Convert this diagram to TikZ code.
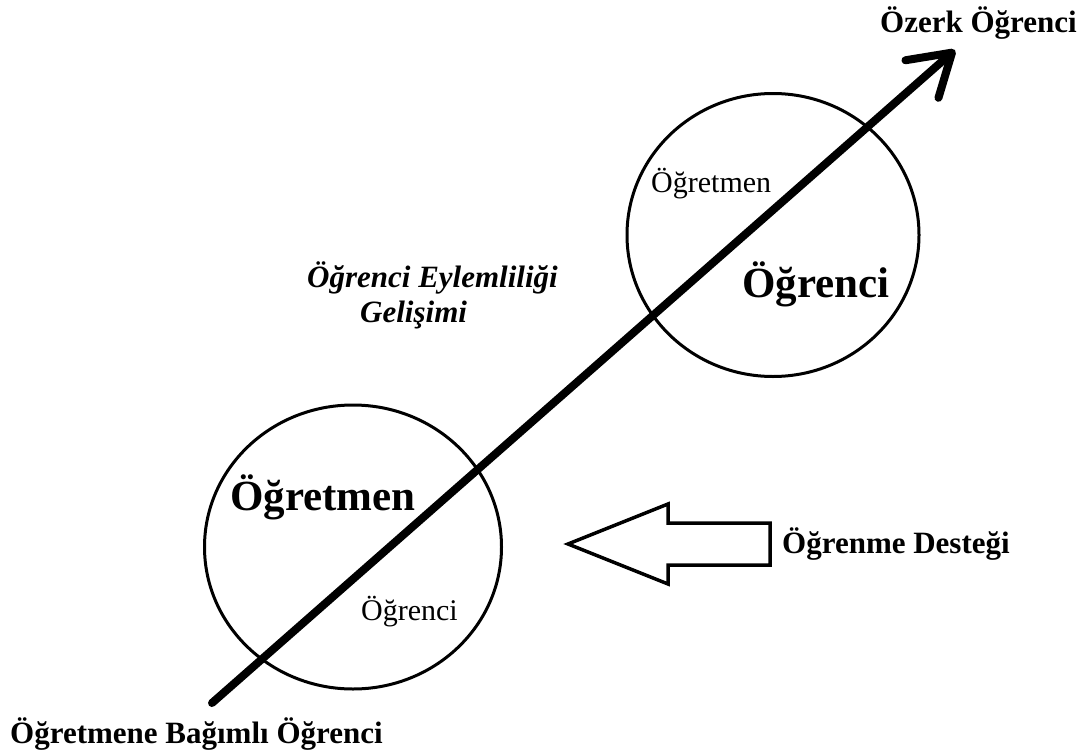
\documentclass[tikz,border=0pt]{standalone}
\usepackage{fontspec}
\setmainfont{Liberation Serif}
\usetikzlibrary{arrows.meta,shapes.geometric}

\begin{document}
\begin{tikzpicture}[
        x=1pt, y=-1pt,
        role/.style={ellipse, draw, line width=3pt, inner sep=0pt},
        bigtext/.style={font=\fontsize{43}{48}\selectfont\bfseries, anchor=base west, inner sep=0pt},
        smalltext/.style={font=\fontsize{30}{36}\selectfont, anchor=base west, inner sep=0pt},
        endtext/.style={font=\fontsize{31}{36}\selectfont\bfseries, anchor=base west, inner sep=0pt},
        trendtext/.style={font=\fontsize{31}{36}\selectfont\bfseries\itshape, anchor=base west, inner sep=0pt},
        growth/.style={line width=8pt, line cap=round, -{Straight Barb[length=40pt, width=50pt, round]}},
        support/.style={draw, line width=3.5pt, line join=miter}
    ]
        \useasboundingbox (0,0) rectangle (1090,755);

        % Two stages and their roles
        \node[role, minimum width=297pt, minimum height=284pt] (early) at (353,547) {};
        \node[role, minimum width=292pt, minimum height=283pt] (late) at (773,235) {};
        \node[bigtext] (earlyteacher) at (230,510) {Öğretmen};
        \node[smalltext] (earlystudent) at (361,620) {Öğrenci};
        \node[smalltext] (lateteacher) at (651,192) {Öğretmen};
        \node[bigtext] (latestudent) at (742,297) {Öğrenci};

        % End labels and the growth arrow
        \node[endtext] (dependent) at (10,743) {Öğretmene Bağımlı Öğrenci};
        \node[endtext] (autonomous) at (880,32) {Özerk Öğrenci};
        \coordinate (from) at (212,703);
        \coordinate (to) at (955,50);
        \draw[growth] (from) -- (to);
        \node[trendtext] (trend) at (307,287) {Öğrenci Eylemliliği};
        \node[trendtext] (trend2) at (360,322) {Gelişimi};

        % Support arrow
        \draw[support] (568,544) -- (668,504) -- (668,523) -- (770,523)
            -- (770,565) -- (668,565) -- (668,584) -- cycle;
        \node[endtext] (support) at (782,553) {Öğrenme Desteği};
    \end{tikzpicture}
\end{document}
